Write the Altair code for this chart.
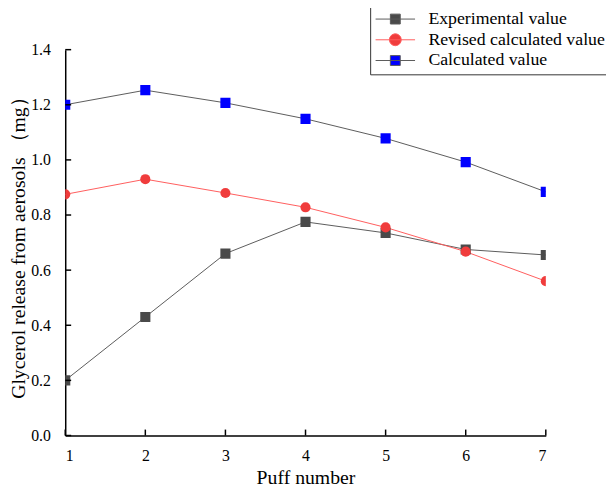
import altair as alt
import pandas as pd

# ---- data ----
puff = [1, 2, 3, 4, 5, 6, 7]
experimental = [0.20, 0.43, 0.66, 0.775, 0.735, 0.675, 0.655]
revised = [0.875, 0.93, 0.88, 0.828, 0.755, 0.667, 0.56]
calculated = [1.20, 1.253, 1.207, 1.149, 1.078, 0.992, 0.884]
series_names = ["Experimental value", "Revised calculated value", "Calculated value"]
x_ticks = [1, 2, 3, 4, 5, 6, 7]
y_ticks = [0.0, 0.2, 0.4, 0.6, 0.8, 1.0, 1.2, 1.4]

# ---- styles ----
FONT = "Liberation Serif"
W, H = 487, 391
line_colors = ["#5a5a5a", "#ff5c5c", "#5a5a5a"]
marker_colors = ["#4a4a4a", "#f03c3c", "#0000ff"]
marker_shapes = ["square", "circle", "square"]
sq_path = "M-1.7,0H6.3M1.3,-1H3.3V1H1.3Z"
ci_path = "M-1.7,0H6.3M1.1,0A1.2,1.2,0,1,0,3.5,0A1.2,1.2,0,1,0,1.1,0Z"
legend_shapes = [sq_path, ci_path, sq_path]
TICK_PX = 6

rows = []
for name, vals in zip(series_names, [experimental, revised, calculated]):
    for x, v in zip(puff, vals):
        rows.append({"puff": x, "value": v, "series": name})
df = pd.DataFrame(rows)

x_dom = [1, 7]
y_dom = [0, 1.4]
xscale = alt.Scale(domain=x_dom, nice=False, zero=False)
yscale = alt.Scale(domain=y_dom, nice=False, zero=True)

x_axis = alt.Axis(values=x_ticks, format="d", tickSize=0, labelPadding=12, domainColor="black",
                  domainWidth=1.5, labelFont=FONT, labelFontSize=16, labelColor="black",
                  title="Puff number", titleFont=FONT, titleFontSize=20,
                  titleFontWeight="normal", titleColor="black", titlePadding=5, grid=False)
y_axis = alt.Axis(values=y_ticks, format=".1f", tickSize=0, labelPadding=15, domainColor="black",
                  domainWidth=1.5, labelFont=FONT, labelFontSize=16, labelColor="black",
                  title="Glycerol release from aerosols （mg）", titleFont=FONT, titleFontSize=20,
                  titleFontWeight="normal", titleColor="black", titlePadding=2, grid=False)

X = alt.X("puff:Q", scale=xscale, axis=x_axis)
Y = alt.Y("value:Q", scale=yscale, axis=y_axis)

base = alt.Chart(df)

lines = base.mark_line(strokeWidth=1, clip=True).encode(
    x=X, y=Y,
    stroke=alt.Stroke("series:N", scale=alt.Scale(domain=series_names, range=line_colors), legend=None),
    detail="series:N",
)

points = base.mark_point(filled=True, size=105, opacity=1, clip=True).encode(
    x=X, y=Y,
    shape=alt.Shape("series:N", scale=alt.Scale(domain=series_names, range=marker_shapes), legend=None),
    fill=alt.Fill("series:N", scale=alt.Scale(domain=series_names, range=marker_colors), legend=None),
)

leg = alt.Legend(title=None, orient="none", legendX=309, legendY=-45, direction="vertical",
                 strokeColor="#333333", fillColor="white", padding=5, symbolSize=100,
                 symbolStrokeWidth=1, symbolOpacity=1, labelFont=FONT, labelFontSize=18,
                 labelColor="black", labelOffset=36, rowPadding=3, labelLimit=0)

legend_layer = base.transform_filter("false").mark_point(filled=True, opacity=1, strokeWidth=1).encode(
    x=X, y=Y,
    shape=alt.Shape("series:N", scale=alt.Scale(domain=series_names, range=legend_shapes), legend=leg),
    fill=alt.Fill("series:N", scale=alt.Scale(domain=series_names, range=marker_colors), legend=leg),
    stroke=alt.Stroke("series:N", scale=alt.Scale(domain=series_names, range=line_colors), legend=leg),
)

# inward tick marks, placed through the scales
xt = pd.DataFrame({"puff": x_ticks, "value": 0.0, "y1": TICK_PX * (y_dom[1] - y_dom[0]) / H})
yt = pd.DataFrame({"value": y_ticks, "puff": float(x_dom[0]),
                   "x1": x_dom[0] + TICK_PX * (x_dom[1] - x_dom[0]) / W})
xticks = alt.Chart(xt).mark_rule(color="black", strokeWidth=1.5).encode(x=X, y=Y, y2="y1:Q")
yticks = alt.Chart(yt).mark_rule(color="black", strokeWidth=1.5).encode(y=Y, x=X, x2="x1:Q")

chart = alt.layer(lines, points, xticks, yticks, legend_layer).resolve_scale(
    shape="independent", fill="independent", stroke="independent"
).properties(
    width=W, height=H,
    autosize=alt.AutoSizeParams(type="none"),
    padding={"left": 58, "top": 39, "right": 61, "bottom": 51},
    background="white",
).configure_view(stroke=None).configure_axis(
    labelFont=FONT, titleFont=FONT, labelColor="black", titleColor="black"
)

chart.save("out.html", embed_options={"renderer": "svg", "actions": False})
